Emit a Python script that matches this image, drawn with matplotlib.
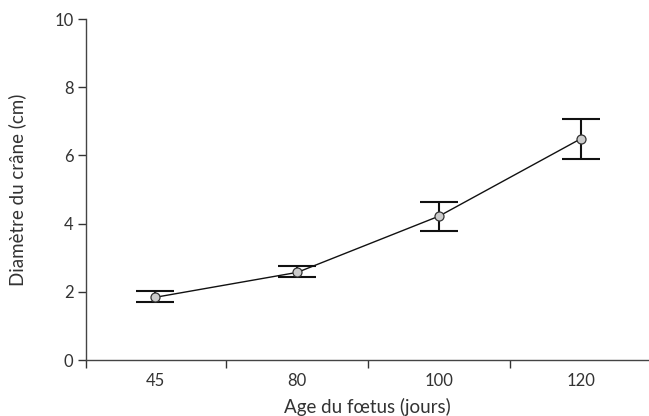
import matplotlib.pyplot as plt

plt.rcParams['font.family'] = ['Lato', 'DejaVu Sans']

ages = ['45', '80', '100', '120']
diam = [1.84, 2.57, 4.22, 6.49]
err_low = [1.71, 2.44, 3.77, 5.89]
err_high = [2.02, 2.76, 4.64, 7.08]

x = list(range(len(ages)))
yerr = [[d - lo for d, lo in zip(diam, err_low)],
        [hi - d for d, hi in zip(diam, err_high)]]

fig = plt.figure(figsize=(6.49, 4.16), dpi=100)
ax = fig.add_axes([0.1325, 0.1346, 0.8675, 0.8197])

ax.errorbar(x, diam, yerr=yerr, fmt='none', ecolor='#111111',
            elinewidth=1.5, capsize=14, capthick=1.5, zorder=2)
ax.plot(x, diam, color='#111111', lw=1, marker='o', ms=6.5,
        mfc='#cccccc', mec='#333333', mew=0.9, zorder=3)

ax.set_xlim(-0.49, 3.48)
ax.set_ylim(0, 10)
ax.set_yticks([0, 2, 4, 6, 8, 10])
ax.set_xticks(x)
ax.set_xticklabels(ages)
ax.set_xticks([-0.49, 0.5, 1.5, 2.5], minor=True)
ax.tick_params(axis='x', which='major', length=0, pad=9)
ax.tick_params(axis='x', which='minor', length=6, width=1, color='#333333')
ax.tick_params(axis='y', length=6, width=1, color='#333333', pad=3)
ax.tick_params(labelsize=12, labelcolor='#333333')

for s in ['top', 'right']:
    ax.spines[s].set_visible(False)
for s in ['left', 'bottom']:
    ax.spines[s].set_color('#444444')
    ax.spines[s].set_linewidth(1)

ax.set_xlabel('Age du fœtus (jours)', fontsize=13.5, color='#333333', labelpad=7)
ax.set_ylabel('Diamètre du crâne (cm)', fontsize=13.5, color='#333333', labelpad=20)

fig.savefig('out.png', dpi=100)
